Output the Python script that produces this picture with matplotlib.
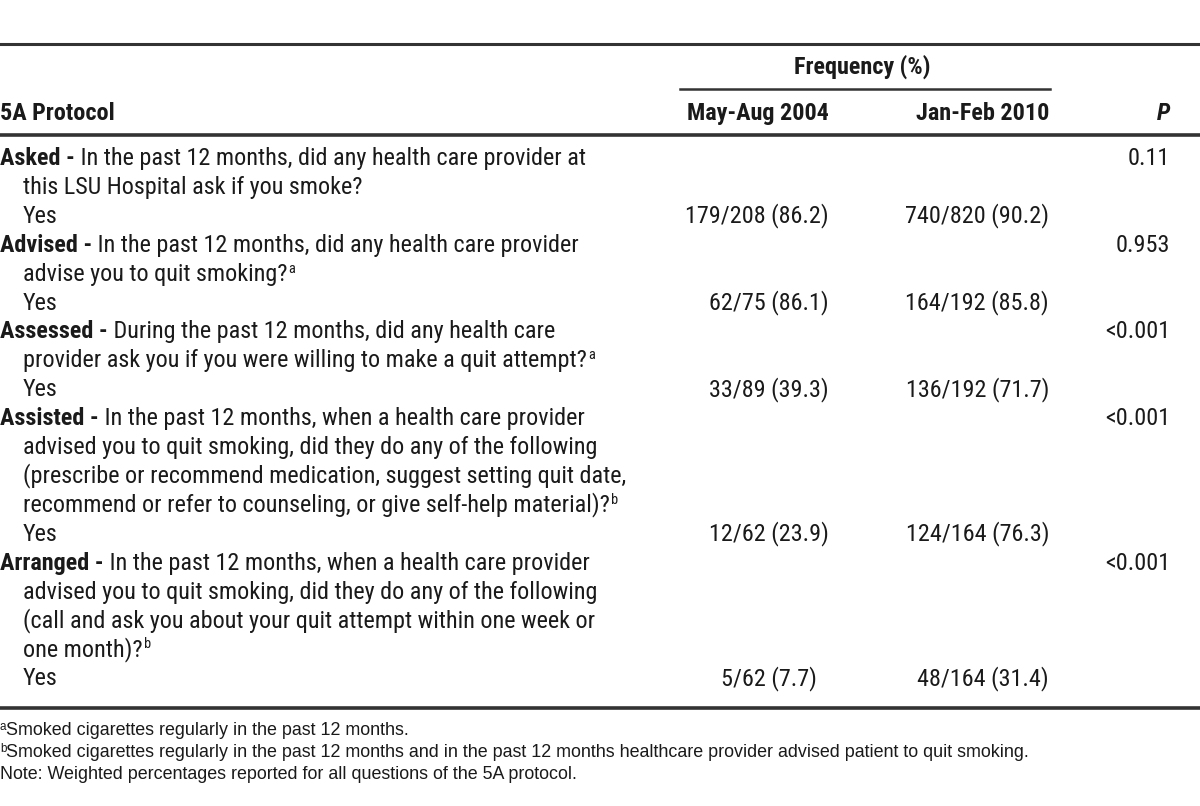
import matplotlib
matplotlib.use('Agg')
import matplotlib.pyplot as plt
from matplotlib import font_manager

# table content
protocol_labels = ['Asked', 'Advised', 'Assessed', 'Assisted', 'Arranged']
questions = [
    ['In the past 12 months, did any health care provider at',
     'this LSU Hospital ask if you smoke?'],
    ['In the past 12 months, did any health care provider',
     'advise you to quit smoking?'],
    ['During the past 12 months, did any health care',
     'provider ask you if you were willing to make a quit attempt?'],
    ['In the past 12 months, when a health care provider',
     'advised you to quit smoking, did they do any of the following',
     '(prescribe or recommend medication, suggest setting quit date,',
     'recommend or refer to counseling, or give self-help material)?'],
    ['In the past 12 months, when a health care provider',
     'advised you to quit smoking, did they do any of the following',
     '(call and ask you about your quit attempt within one week or',
     'one month)?'],
]
question_notes = ['', 'a', 'a', 'b', 'b']
n_2004 = [179, 62, 33, 12, 5]
d_2004 = [208, 75, 89, 62, 62]
pct_2004 = [86.2, 86.1, 39.3, 23.9, 7.7]
n_2010 = [740, 164, 136, 124, 48]
d_2010 = [820, 192, 192, 164, 164]
pct_2010 = [90.2, 85.8, 71.7, 76.3, 31.4]
p_values = ['0.11', '0.953', '<0.001', '<0.001', '<0.001']
col_headers = ['5A Protocol', 'May-Aug 2004', 'Jan-Feb 2010', 'P']
group_header = 'Frequency (%)'
footnotes = [('a', 'Smoked cigarettes regularly in the past 12 months.'),
             ('b', 'Smoked cigarettes regularly in the past 12 months and in the past 12 months '
                   'healthcare provider advised patient to quit smoking.'),
             ('', 'Note: Weighted percentages reported for all questions of the 5A protocol.')]

W, H = 1200, 806
fig = plt.figure(figsize=(12, 8.06), dpi=100)
ax = fig.add_axes([0, 0, 1, 1])
ax.set_xlim(0, W)
ax.set_ylim(H, 0)
ax.axis('off')
renderer = fig.canvas.get_renderer()

NARROW = ['Roboto Condensed', 'PT Sans Narrow', 'DejaVu Sans']
PLAIN = ['Liberation Sans', 'DejaVu Sans']
INK = '#1a1a1a'


def put(x, y, s, size, weight='normal', ha='left', fam=NARROW, style='normal'):
    t = ax.text(x, y, s, fontsize=size, fontweight=weight, ha=ha, va='baseline',
                family=fam, fontstyle=style, color=INK)
    return t.get_window_extent(renderer).width


def fit(s, target, weight='normal', fam=NARROW):
    t = ax.text(0, 0, s, fontsize=10, fontweight=weight, family=fam)
    w = t.get_window_extent(renderer).width
    t.remove()
    return 10 * target / w


body = fit(questions[0][0], 501)
head = fit(col_headers[1], 142, weight='bold')
foot = fit(footnotes[1][1], 1029, fam=PLAIN)
sup = body * 0.6
t = ax.text(0, 0, '0', fontsize=body, family=NARROW)
digit_w = t.get_window_extent(renderer).width
t.remove()

# rules
ax.plot([0, W], [44, 44], color='#333333', lw=2.2)
ax.plot([680, 1050], [89, 89], color='#333333', lw=1.8)
ax.plot([0, W], [135, 135], color='#333333', lw=2.6)
ax.plot([0, W], [708, 708], color='#333333', lw=2.6)

# headers
put(862, 74, group_header, head, weight='bold', ha='center')
put(0, 120, col_headers[0], head, weight='bold')
put(829, 120, col_headers[1], head, weight='bold', ha='right')
put(1049, 120, col_headers[2], head, weight='bold', ha='right')
put(1170, 120, col_headers[3], head, weight='bold', ha='right', style='italic')

# body rows
pitch = 28.9
y0 = 165
line = 0
indent = 23
for i, lab in enumerate(protocol_labels):
    yb = y0 + pitch * line
    wb = put(0, yb, lab + ' -', body, weight='bold')
    put(wb, yb, ' ' + questions[i][0], body)
    put(1170, yb, p_values[i], body, ha='right')
    line += 1
    for k, q in enumerate(questions[i][1:]):
        yb = y0 + pitch * line
        wq = put(indent, yb, q, body)
        if k == len(questions[i]) - 2 and question_notes[i]:
            put(indent + wq + 1, yb - 8, question_notes[i], sup)
        line += 1
    yb = y0 + pitch * line
    put(indent, yb, 'Yes', body)
    shift = digit_w if pct_2004[i] < 10 else 0
    put(829 - shift, yb, f'{n_2004[i]}/{d_2004[i]} ({pct_2004[i]})', body, ha='right')
    shift = digit_w if pct_2010[i] < 10 else 0
    put(1049 - shift, yb, f'{n_2010[i]}/{d_2010[i]} ({pct_2010[i]})', body, ha='right')
    line += 1

# footnotes
for j, (mark, txt) in enumerate(footnotes):
    yb = 735 + 22 * j
    x = 0
    if mark:
        x += put(0, yb - 5, mark, foot * 0.65, fam=PLAIN)
    put(x, yb, txt, foot, fam=PLAIN)

fig.savefig('out.png', dpi=100, facecolor='white')
